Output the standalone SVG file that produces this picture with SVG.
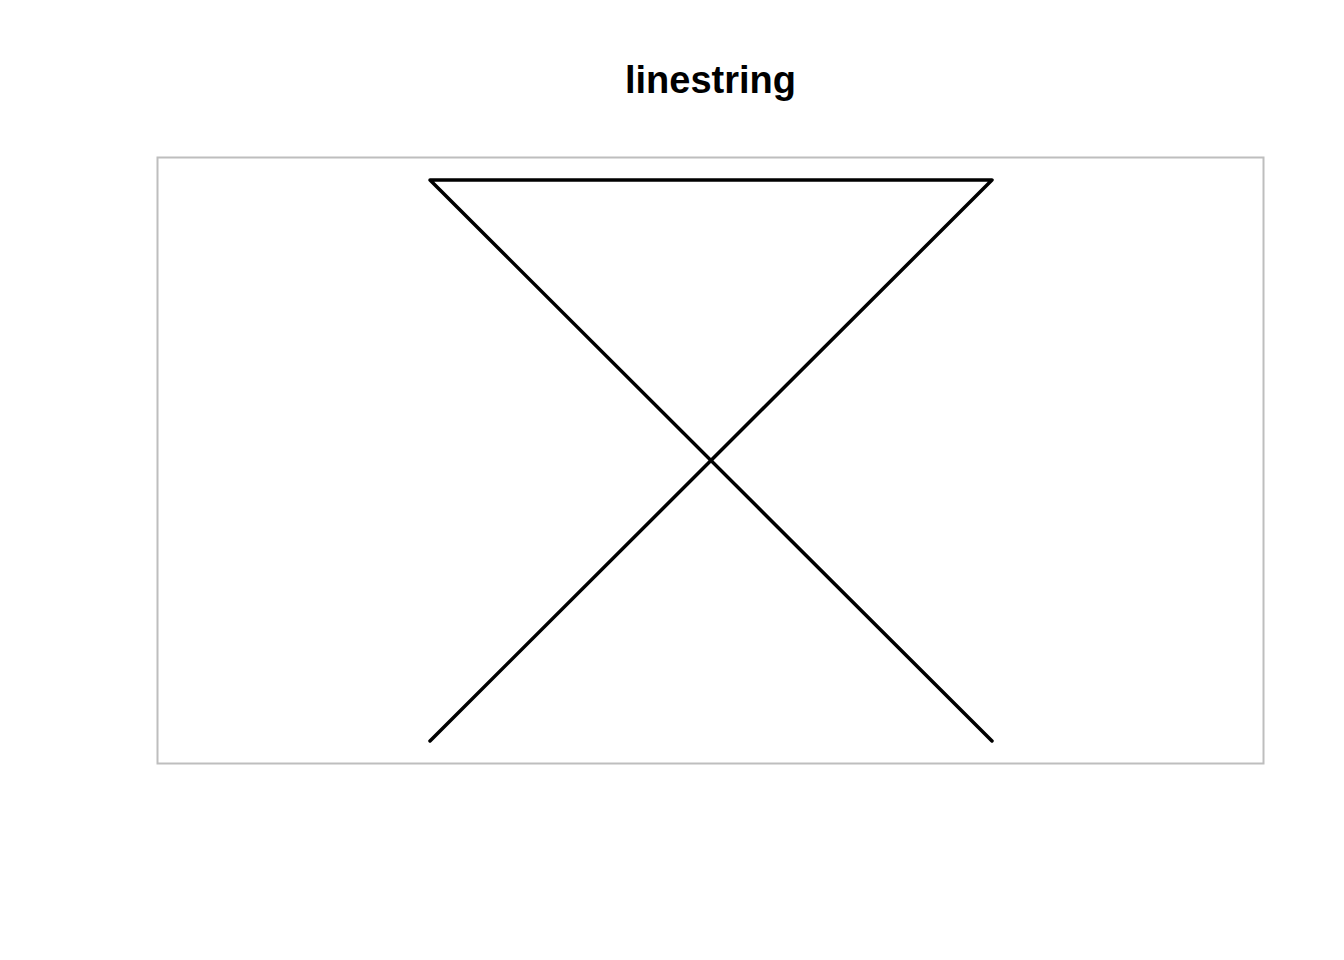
<svg xmlns="http://www.w3.org/2000/svg" width="1344" height="960" viewBox="0 0 1344 960">
<style>
.title{font-family:"Liberation Sans",Arial,sans-serif;font-weight:bold;font-size:38px;fill:#000}
.frame{fill:none;stroke:#bebebe;stroke-width:2}
.geom{fill:none;stroke:#000;stroke-width:3.5;stroke-linecap:round;stroke-linejoin:round}
</style>
<rect width="1344" height="960" fill="#fff"/>
<text class="title" x="710.5" y="92.5" text-anchor="middle">linestring</text>
<rect id="frame" class="frame" x="157.5" y="157.5" width="1106" height="606"/>
<g id="connectors">
<polyline class="geom" points="430,741 992,180 430,180 992,741"/>
</g>
</svg>
